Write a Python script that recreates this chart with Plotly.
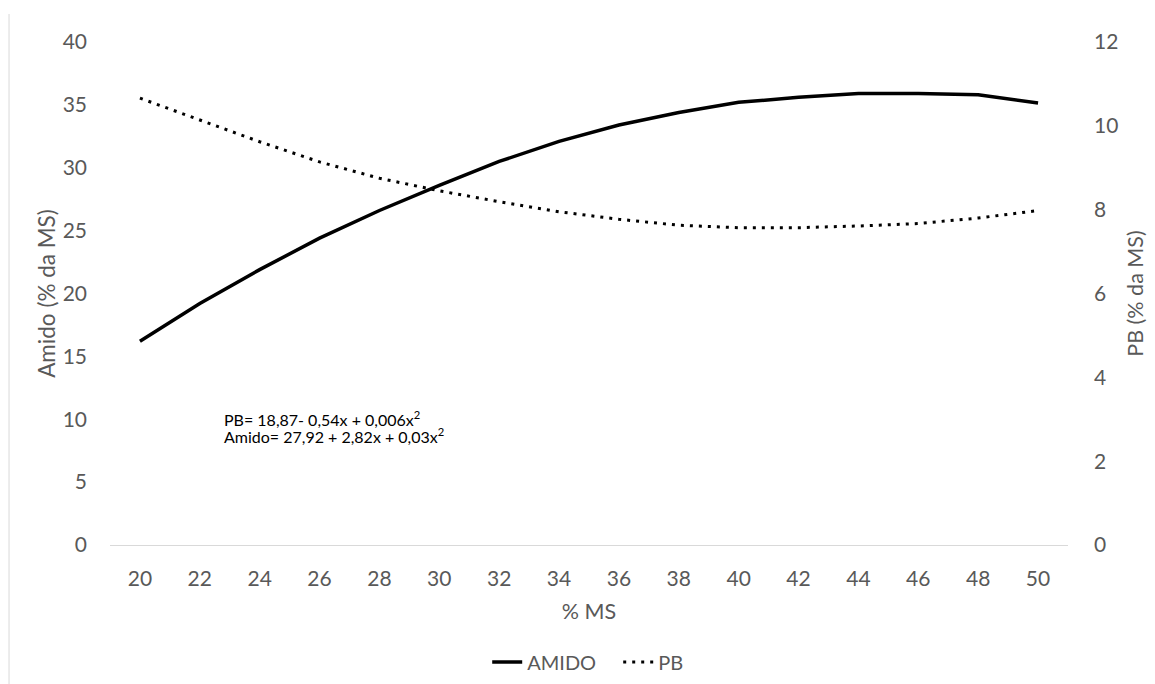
import plotly.graph_objects as go

ms = ["20", "22", "24", "26", "28", "30", "32", "34", "36", "38", "40", "42", "44", "46", "48", "50"]
amido = [16.2, 19.2, 21.9, 24.4, 26.6, 28.6, 30.5, 32.1, 33.4, 34.4, 35.2, 35.6, 35.9, 35.9, 35.8, 35.15]
pb = [10.66, 10.14, 9.62, 9.14, 8.75, 8.45, 8.19, 7.95, 7.77, 7.63, 7.57, 7.57, 7.61, 7.67, 7.80, 7.98]

left_ticks = [0, 5, 10, 15, 20, 25, 30, 35, 40]
right_ticks = [0, 2, 4, 6, 8, 10, 12]

eq_pb = "PB= 18,87- 0,54x + 0,006x<sup>2</sup>"
eq_amido = "Amido= 27,92 + 2,82x + 0,03x<sup>2</sup>"

FONT = "Lato"
GREY = "#595959"

fig = go.Figure()
fig.add_trace(go.Scatter(x=ms, y=amido, mode="lines", name="AMIDO",
                         line=dict(color="black", width=3.5), yaxis="y"))
fig.add_trace(go.Scatter(x=ms, y=pb, mode="lines", name="PB",
                         line=dict(color="black", width=3, dash="3px,6px"), yaxis="y2"))

fig.update_layout(
    width=1147, height=676,
    margin=dict(l=102, r=87, t=34, b=139),
    paper_bgcolor="white", plot_bgcolor="white",
    font=dict(family=FONT, size=21, color=GREY),
    showlegend=True,
    legend=dict(orientation="h", xref="container", yref="container",
                x=0.532, xanchor="center", y=0.0325, yanchor="middle",
                font=dict(family=FONT, size=20, color=GREY), traceorder="normal",
                itemwidth=30, entrywidth=86, entrywidthmode="pixels"),
    xaxis=dict(type="category", range=[-0.5, 15.5], showgrid=False, zeroline=False,
               showline=True, linecolor="#d9d9d9", linewidth=1, ticks="",
               ticklabelstandoff=15, tickfont=dict(size=21, color=GREY),
               title=dict(text="% MS", standoff=14, font=dict(size=21.5, color=GREY))),
    yaxis=dict(range=[0, 40], tickvals=left_ticks, showgrid=False, zeroline=False,
               showline=False, ticks="", ticklabelstandoff=22, tickfont=dict(size=21, color=GREY),
               title=dict(text="Amido (% da MS)", standoff=0, font=dict(size=22.5, color=GREY))),
    yaxis2=dict(range=[0, 12], tickvals=right_ticks, overlaying="y", side="right",
                showgrid=False, zeroline=False, showline=False, ticks="",
                ticklabelstandoff=25, tickfont=dict(size=21, color=GREY),
                title=dict(text="PB (% da MS)", standoff=10, font=dict(size=21.5, color=GREY))),
)

for txt, yy in [(eq_pb, 0.2505), (eq_amido, 0.2167)]:
    fig.add_annotation(
        xref="paper", yref="paper", x=0.1169, y=yy, xanchor="left", yanchor="middle",
        align="left", showarrow=False, text=txt,
        font=dict(family=FONT, size=16, color="black"),
    )

fig.add_shape(type="line", xref="paper", yref="paper",
              x0=-0.1054, x1=-0.1054, y0=1.0557, y1=-0.28,
              line=dict(color="#d9d9d9", width=1))

fig.write_html("out.html")
